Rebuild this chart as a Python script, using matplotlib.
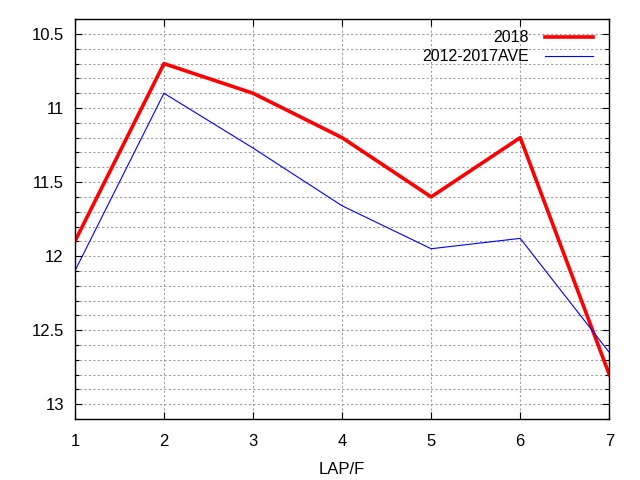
import matplotlib
matplotlib.use("Agg")
import matplotlib.pyplot as plt
from matplotlib.ticker import MultipleLocator

# dados
laps = [1, 2, 3, 4, 5, 6, 7]
y2018 = [11.9, 10.7, 10.9, 11.2, 11.6, 11.2, 12.8]
yave = [12.1, 10.9, 11.27, 11.66, 11.95, 11.88, 12.65]

plt.rcParams["font.family"] = ["Liberation Sans", "DejaVu Sans"]
plt.rcParams["font.size"] = 12

fig = plt.figure(figsize=(6.4, 4.8), dpi=100)
ax = fig.add_axes([0.117, 0.127, 0.835, 0.833])

ax.plot(laps, y2018, color="#ff0000", lw=2.6, label="2018")
ax.plot(laps, yave, color="#0000ff", lw=0.8, label="2012-2017AVE")

ax.set_xlim(1, 7)
ax.set_ylim(13.1, 10.4)
ax.xaxis.set_major_locator(MultipleLocator(1))
ax.yaxis.set_minor_locator(MultipleLocator(0.1))
ax.set_yticks([10.5, 11, 11.5, 12, 12.5, 13])
ax.set_yticklabels(["10.5", "11", "11.5", "12", "12.5", "13"])

ax.grid(which="major", color="#a0a0a0", ls=(0, (2, 2)), lw=0.8)
ax.grid(which="minor", axis="y", color="#a0a0a0", ls=(0, (2, 2)), lw=0.8)
ax.set_axisbelow(True)

ax.tick_params(which="both", direction="in", top=True, right=True, length=5, width=0.8)
ax.tick_params(which="minor", length=3)
ax.tick_params(axis="x", pad=11)
ax.tick_params(axis="y", pad=8)
for s in ax.spines.values():
    s.set_linewidth(1)

ax.set_xlabel("LAP/F", labelpad=9)

ax.legend(loc="upper right", frameon=False, markerfirst=False,
          handlelength=3.0, borderaxespad=0.3, labelspacing=0.25,
          handletextpad=1.0, fontsize=11.5, bbox_to_anchor=(0.99, 1.0))

fig.savefig("out.png", dpi=100)
